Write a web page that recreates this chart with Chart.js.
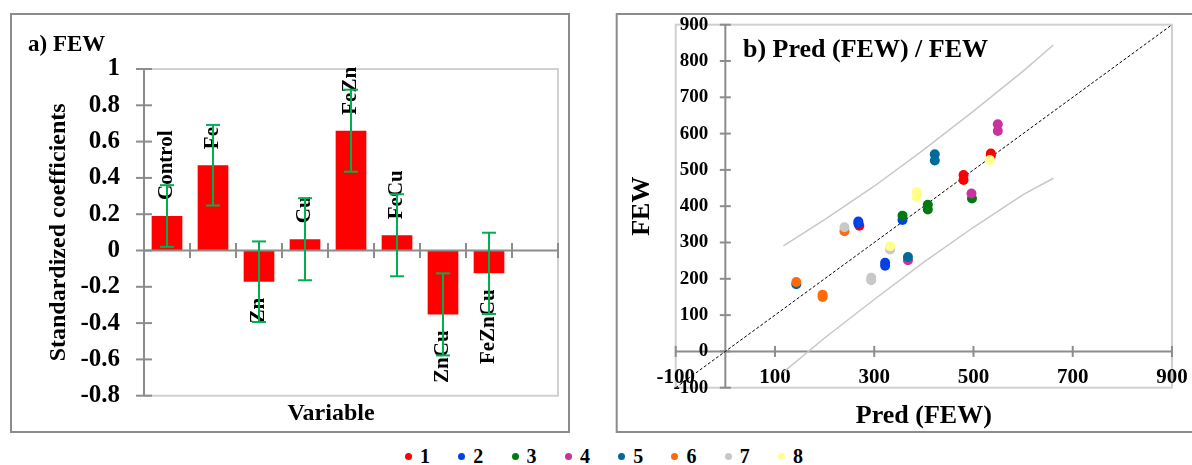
<!DOCTYPE html>
<html>
<head>
<meta charset="utf-8">
<script src="https://cdn.jsdelivr.net/npm/chart.js@4.4.1/dist/chart.umd.min.js"></script>
<style>
  body { margin: 0; background: #fff; }
  #wrap { position: relative; width: 1192px; height: 465px; overflow: hidden; }
  canvas { position: absolute; top: 0; }
  #legend { position: absolute; left: 405px; top: 446px; height: 20px; line-height: 20px; display: flex;
            font: bold 20px "Liberation Serif", "Times New Roman", serif; }
  .item { width: 53.3px; display: flex; align-items: center; }
  .dot { width: 7px; height: 7px; border-radius: 50%; margin-right: 8px; }
</style>
</head>
<body>
<div id="wrap">
  <canvas id="coefChart" width="600" height="440" style="left:0"></canvas>
  <canvas id="predChart" width="592" height="440" style="left:600px"></canvas>
  <div id="legend"></div>
</div>
<script>
// a) standardized coefficients (last slot is empty, as in the original)
var categories = ['Control', 'Fe', 'Zn', 'Cu', 'FeZn', 'FeCu', 'ZnCu', 'FeZnCu', ''];
var coefficients = [0.19, 0.47, -0.172, 0.062, 0.66, 0.084, -0.352, -0.126, null];
var coefErrors = [0.17, 0.222, 0.222, 0.226, 0.226, 0.226, 0.226, 0.224, null];
var coefTicks = [-0.8, -0.6, -0.4, -0.2, 0, 0.2, 0.4, 0.6, 0.8, 1];

// b) Pred (FEW) / FEW
var seriesNames = ['1', '2', '3', '4', '5', '6', '7', '8'];
var seriesColors = ['#ff0000', '#0042e8', '#007a10', '#c8339f', '#006a98', '#ff6a0a', '#c8c8c8', '#ffff8c'];
var predValues = [
  [270, 480, 480, 535, 535],
  [268, 268, 357, 322, 322],
  [357, 408, 408, 497],
  [549, 549, 496, 368],
  [422, 422, 368, 143],
  [143, 196, 196, 240],
  [240, 332, 294, 294],
  [386, 386, 332, 533]
];
var fewValues = [
  [346, 486, 472, 545, 539],
  [358, 352, 362, 244, 236],
  [374, 404, 391, 421],
  [626, 607, 435, 251],
  [543, 526, 260, 185],
  [191, 156, 150, 331],
  [342, 281, 203, 196],
  [440, 426, 290, 527]
];
var bandX = [117, 200, 300, 400, 500, 600, 661];
var bandUpper = [291, 363, 455, 556, 662, 772, 844];
var bandLower = [-57, 37, 143, 246, 342, 432, 477];
var identityLine = [-100, 900];
var predXTicks = [-100, 100, 300, 500, 700, 900];
var fewYTicks = [-100, 0, 100, 200, 300, 400, 500, 600, 700, 800, 900];

var FONT = '"Liberation Serif", "Times New Roman", serif';
var AXIS = '#8c8c8c';
var BOX = '#d0d0d0';

function line(ctx, x1, y1, x2, y2) {
  ctx.beginPath();
  ctx.moveTo(x1, y1);
  ctx.lineTo(x2, y2);
  ctx.stroke();
}

var coefDecor = {
  id: 'coefDecor',
  beforeDatasetsDraw: function(chart) {
    var ctx = chart.ctx, area = chart.chartArea, ys = chart.scales.y;
    ctx.save();
    ctx.lineWidth = 2;
    ctx.strokeStyle = AXIS;
    ctx.strokeRect(11, 14, 558, 418);
    ctx.strokeStyle = BOX;
    ctx.beginPath();
    ctx.moveTo(area.left, area.top);
    ctx.lineTo(area.right, area.top);
    ctx.lineTo(area.right, area.bottom);
    ctx.lineTo(area.left, area.bottom);
    ctx.stroke();

    ctx.fillStyle = '#000';
    ctx.font = 'bold 25px ' + FONT;
    ctx.textAlign = 'right';
    ctx.textBaseline = 'middle';
    coefTicks.forEach(function(t) {
      ctx.fillText(String(t), 120, ys.getPixelForValue(t));
    });

    ctx.font = 'bold 23px ' + FONT;
    ctx.textAlign = 'left';
    ctx.textBaseline = 'alphabetic';
    ctx.fillText('a) FEW', 28, 51);

    ctx.font = 'bold 24px ' + FONT;
    ctx.textAlign = 'center';
    ctx.fillText('Variable', 331, 420);

    ctx.translate(59, (area.top + area.bottom) / 2);
    ctx.rotate(-Math.PI / 2);
    ctx.textBaseline = 'middle';
    ctx.fillText('Standardized coefficients', 0, 0);
    ctx.restore();
  },
  afterDatasetsDraw: function(chart) {
    var ctx = chart.ctx, area = chart.chartArea, xs = chart.scales.x, ys = chart.scales.y;
    var y0 = ys.getPixelForValue(0);
    ctx.save();
    ctx.strokeStyle = AXIS;
    ctx.lineWidth = 2;
    line(ctx, area.left, area.top, area.left, area.bottom);
    coefTicks.forEach(function(t) {
      var y = ys.getPixelForValue(t);
      line(ctx, area.left - 8, y, area.left + 8, y);
    });
    line(ctx, area.left, y0, area.right, y0);
    for (var i = 1; i <= categories.length; i++) {
      var bx = i < categories.length ? (xs.getPixelForValue(i - 1) + xs.getPixelForValue(i)) / 2 : area.right;
      line(ctx, bx, y0 - 7.5, bx, y0 + 7.5);
    }

    // category names sit on the bar ends
    ctx.font = 'bold 21px ' + FONT;
    ctx.fillStyle = '#000';
    ctx.textBaseline = 'middle';
    coefficients.forEach(function(v, i) {
      if (v === null) return;
      var x = xs.getPixelForValue(i), y = ys.getPixelForValue(v);
      ctx.save();
      ctx.translate(x, v >= 0 ? y - 16 : y + 16);
      ctx.rotate(-Math.PI / 2);
      ctx.textAlign = v >= 0 ? 'left' : 'right';
      ctx.fillText(categories[i], 0, 0);
      ctx.restore();
    });

    // error bars
    ctx.strokeStyle = '#00b050';
    ctx.lineWidth = 2;
    coefficients.forEach(function(v, i) {
      if (v === null) return;
      var x = xs.getPixelForValue(i);
      var yt = ys.getPixelForValue(v + coefErrors[i]);
      var yb = ys.getPixelForValue(v - coefErrors[i]);
      line(ctx, x, yt, x, yb);
      line(ctx, x - 7, yt, x + 7, yt);
      line(ctx, x - 7, yb, x + 7, yb);
    });
    ctx.restore();
  }
};

var predDecor = {
  id: 'predDecor',
  beforeDatasetsDraw: function(chart) {
    var ctx = chart.ctx, area = chart.chartArea, xs = chart.scales.x, ys = chart.scales.y;
    var x0 = xs.getPixelForValue(0), y0 = ys.getPixelForValue(0);
    ctx.save();
    ctx.lineWidth = 2;
    ctx.strokeStyle = AXIS;
    ctx.strokeRect(16.7, 14, 600, 418);
    ctx.strokeStyle = BOX;
    ctx.strokeRect(area.left, area.top, area.right - area.left, area.bottom - area.top);

    ctx.strokeStyle = AXIS;
    line(ctx, x0, area.top, x0, area.bottom);
    fewYTicks.forEach(function(t) {
      var y = ys.getPixelForValue(t);
      line(ctx, x0 - 5.5, y, x0 + 5.5, y);
    });
    line(ctx, area.left, y0, area.right, y0);
    predXTicks.forEach(function(t) {
      var x = xs.getPixelForValue(t);
      line(ctx, x, y0 - 5.5, x, y0 + 5.5);
    });

    ctx.fillStyle = '#000';
    ctx.textBaseline = 'middle';
    ctx.font = 'bold 19px ' + FONT;
    ctx.textAlign = 'right';
    fewYTicks.forEach(function(t) {
      ctx.fillText(String(t), x0 - 17, ys.getPixelForValue(t));
    });
    ctx.font = 'bold 21px ' + FONT;
    ctx.textAlign = 'center';
    predXTicks.forEach(function(t) {
      ctx.fillText(String(t), xs.getPixelForValue(t), y0 + 26);
    });

    ctx.font = 'bold 26px ' + FONT;
    ctx.textBaseline = 'alphabetic';
    ctx.textAlign = 'left';
    ctx.fillText('b) Pred (FEW) / FEW', 143, 57);
    ctx.textAlign = 'center';
    ctx.fillText('Pred (FEW)', (area.left + area.right) / 2, 423);
    ctx.translate(42, (area.top + area.bottom) / 2);
    ctx.rotate(-Math.PI / 2);
    ctx.textBaseline = 'middle';
    ctx.fillText('FEW', 0, 0);
    ctx.restore();
  }
};

new Chart(document.getElementById('coefChart'), {
  type: 'bar',
  data: {
    labels: categories,
    datasets: [{
      data: coefficients,
      backgroundColor: '#ff0000',
      barPercentage: 0.667,
      categoryPercentage: 1
    }]
  },
  options: {
    responsive: false,
    animation: false,
    devicePixelRatio: 1,
    layout: { padding: { left: 144, top: 69, right: 42, bottom: 44.3 } },
    plugins: { legend: { display: false }, tooltip: { enabled: false } },
    scales: {
      x: { display: false },
      y: { display: false, min: -0.8, max: 1 }
    }
  },
  plugins: [coefDecor]
});

var datasets = seriesNames.map(function(name, i) {
  return {
    label: name,
    data: predValues[i].map(function(x, j) { return { x: x, y: fewValues[i][j] }; }),
    backgroundColor: seriesColors[i],
    pointBorderWidth: 0,
    pointRadius: 5,
    order: -i
  };
});
datasets.push({
  data: bandX.map(function(x, j) { return { x: x, y: bandUpper[j] }; }),
  showLine: true, borderColor: '#c8c8c8', borderWidth: 1.5, pointRadius: 0, order: 10
});
datasets.push({
  data: bandX.map(function(x, j) { return { x: x, y: bandLower[j] }; }),
  showLine: true, borderColor: '#c8c8c8', borderWidth: 1.5, pointRadius: 0, order: 10
});
datasets.push({
  data: identityLine.map(function(v) { return { x: v, y: v }; }),
  showLine: true, borderColor: '#000', borderWidth: 1, borderDash: [3, 2], pointRadius: 0, order: 10
});

new Chart(document.getElementById('predChart'), {
  type: 'scatter',
  data: { datasets: datasets },
  options: {
    responsive: false,
    animation: false,
    devicePixelRatio: 1,
    layout: { padding: { left: 75.7, top: 24.7, right: 20, bottom: 52.3 } },
    plugins: { legend: { display: false }, tooltip: { enabled: false } },
    scales: {
      x: { type: 'linear', display: false, min: -100, max: 900 },
      y: { type: 'linear', display: false, min: -100, max: 900 }
    }
  },
  plugins: [predDecor]
});

var legend = document.getElementById('legend');
seriesNames.forEach(function(name, i) {
  var item = document.createElement('div');
  item.className = 'item';
  var dot = document.createElement('span');
  dot.className = 'dot';
  dot.style.background = seriesColors[i];
  item.appendChild(dot);
  item.appendChild(document.createTextNode(name));
  legend.appendChild(item);
});
</script>
</body>
</html>
